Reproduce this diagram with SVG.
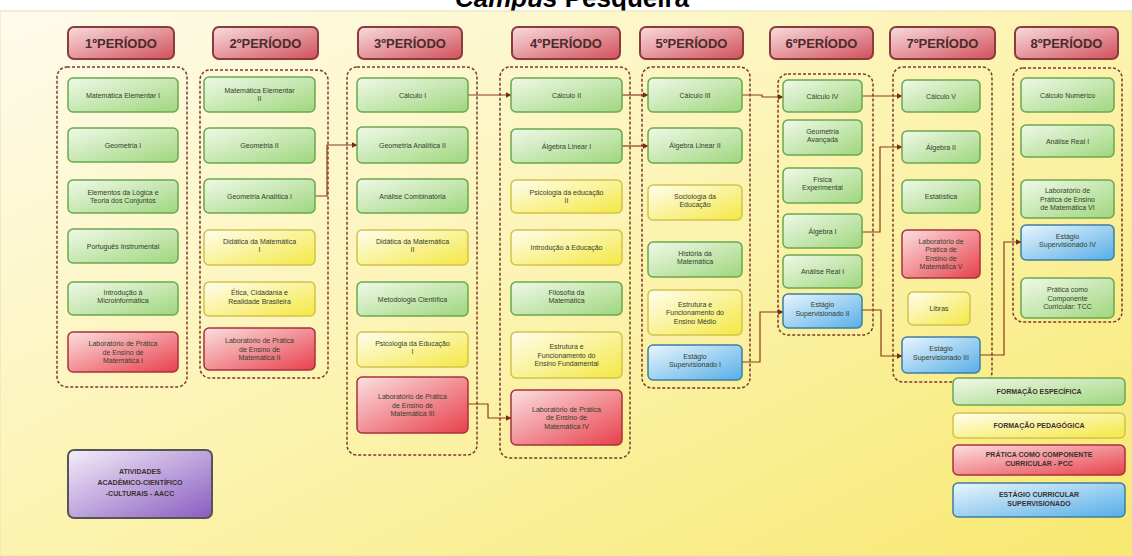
<svg xmlns="http://www.w3.org/2000/svg" width="1132" height="556" viewBox="0 0 1132 556">
<defs>
<linearGradient id="bg" x1="0" y1="0" x2="1" y2="1"><stop offset="0" stop-color="#fefbec"/><stop offset="0.5" stop-color="#fcf3b0"/><stop offset="1" stop-color="#f8e870"/></linearGradient>
<linearGradient id="gG" x1="0" y1="0" x2="1" y2="1"><stop offset="0" stop-color="#f0f9e8"/><stop offset="1" stop-color="#9fd67e"/></linearGradient>
<linearGradient id="gY" x1="0" y1="0" x2="1" y2="1"><stop offset="0" stop-color="#fffdf0"/><stop offset="1" stop-color="#f4e843"/></linearGradient>
<linearGradient id="gR" x1="0" y1="0" x2="1" y2="1"><stop offset="0" stop-color="#fbe0e0"/><stop offset="1" stop-color="#e8404c"/></linearGradient>
<linearGradient id="gB" x1="0" y1="0" x2="1" y2="1"><stop offset="0" stop-color="#eaf6fc"/><stop offset="1" stop-color="#56aee8"/></linearGradient>
<linearGradient id="gH" x1="0" y1="0" x2="1" y2="1"><stop offset="0" stop-color="#f8dcdc"/><stop offset="1" stop-color="#d2505c"/></linearGradient>
<linearGradient id="gP" x1="0" y1="0" x2="1" y2="1"><stop offset="0" stop-color="#f4eefa"/><stop offset="1" stop-color="#8a5cc0"/></linearGradient>
<marker id="arr" viewBox="0 0 10 10" refX="9" refY="5" markerWidth="5" markerHeight="5" orient="auto"><path d="M0,0 L10,5 L0,10 z" fill="#7a2a14"/></marker>
</defs>
<style>
.g{fill:url(#gG);stroke:#6aa84f;stroke-width:1.5}
.y{fill:url(#gY);stroke:#d2c24a;stroke-width:1.5}
.r{fill:url(#gR);stroke:#a8323a;stroke-width:1.5}
.b{fill:url(#gB);stroke:#3d7fa0;stroke-width:1.5}
.h{fill:url(#gH);stroke:#8c3a3a;stroke-width:2}
.p{fill:url(#gP);stroke:#555;stroke-width:2}
.c{fill:none;stroke:#7a3b2e;stroke-width:1.5;stroke-dasharray:3 2}
.t{font-family:"Liberation Sans",Arial,sans-serif;font-size:7px;fill:#33402c;text-anchor:middle}
.ht{font-family:"Liberation Sans",Arial,sans-serif;font-weight:bold;font-size:13px;fill:#4a2c2c;text-anchor:middle}
.lt{font-family:"Liberation Sans",Arial,sans-serif;font-weight:bold;font-size:7px;fill:#3a3030;text-anchor:middle}
.conn{fill:none;stroke:#8b3a1a;stroke-width:1.2;marker-end:url(#arr)}
</style>
<rect x="0" y="0" width="1132" height="556" fill="#ffffff"/>
<text x="572" y="7" font-family="Liberation Sans, Arial, sans-serif" font-weight="bold" font-size="26" text-anchor="middle" fill="#000"><tspan font-style="italic">Campus</tspan> Pesqueira</text>
<rect x="0" y="11" width="1132" height="545" fill="url(#bg)" stroke="#e8e0b0" stroke-width="1"/>

<g id="containers">
<rect class="c" x="57" y="67" width="130" height="320" rx="10"/>
<rect class="c" x="200" y="70" width="128" height="308" rx="10"/>
<rect class="c" x="347" y="67" width="130" height="388" rx="10"/>
<rect class="c" x="500" y="67" width="130" height="391" rx="10"/>
<rect class="c" x="642" y="67" width="108" height="321" rx="10"/>
<rect class="c" x="778" y="74" width="95" height="261" rx="10"/>
<rect class="c" x="893" y="67" width="99" height="315" rx="10"/>
<rect class="c" x="1013" y="68" width="109" height="254" rx="10"/>
</g>

<g id="headers">
<g id="h1"><rect class="h" x="68" y="27" width="106" height="32" rx="6"/><text class="ht" x="121" y="47.5">1ºPERÍODO</text></g>
<g id="h2"><rect class="h" x="213" y="27" width="105" height="32" rx="6"/><text class="ht" x="265.5" y="47.5">2ºPERÍODO</text></g>
<g id="h3"><rect class="h" x="358" y="27" width="104" height="32" rx="6"/><text class="ht" x="410" y="47.5">3ºPERÍODO</text></g>
<g id="h4"><rect class="h" x="512" y="27" width="108" height="32" rx="6"/><text class="ht" x="566" y="47.5">4ºPERÍODO</text></g>
<g id="h5"><rect class="h" x="640" y="27" width="103" height="32" rx="6"/><text class="ht" x="691.5" y="47.5">5ºPERÍODO</text></g>
<g id="h6"><rect class="h" x="770" y="27" width="103" height="32" rx="6"/><text class="ht" x="821.5" y="47.5">6ºPERÍODO</text></g>
<g id="h7"><rect class="h" x="890" y="27" width="105" height="32" rx="6"/><text class="ht" x="942.5" y="47.5">7ºPERÍODO</text></g>
<g id="h8"><rect class="h" x="1015" y="27" width="103" height="32" rx="6"/><text class="ht" x="1066.5" y="47.5">8ºPERÍODO</text></g>
</g>

<g id="connectors">
<path class="conn" d="M315,196 H327 V145 H357"/>
<path class="conn" d="M468,95 H511"/>
<path class="conn" d="M468,404 H488 V418 H511"/>
<path class="conn" d="M622,95 H648"/>
<path class="conn" d="M622,146 H648"/>
<path class="conn" d="M742,95 H762 V97 H783"/>
<path class="conn" d="M742,362 H760 V312 H783"/>
<path class="conn" d="M862,96 H902"/>
<path class="conn" d="M862,232 H880 V147 H902"/>
<path class="conn" d="M862,310 H881 V356 H902"/>
<path class="conn" d="M980,355 H1004 V242 H1021"/>
</g>

<g id="n1a"><rect class="g" x="68" y="78" width="110" height="34" rx="5"/><text class="t" x="123" y="97.5">Matemática Elementar I</text></g>
<g id="n1b"><rect class="g" x="68" y="128" width="110" height="34" rx="5"/><text class="t" x="123" y="147.5">Geometria I</text></g>
<g id="n1c"><rect class="g" x="68" y="180" width="110" height="33" rx="5"/><text class="t" x="123" y="194.5">Elementos da Lógica e<tspan x="123" dy="8.5">Teoria dos Conjuntos</tspan></text></g>
<g id="n1d"><rect class="g" x="68" y="229" width="110" height="34" rx="5"/><text class="t" x="123" y="248.5">Português Instrumental</text></g>
<g id="n1e"><rect class="g" x="68" y="282" width="110" height="33" rx="5"/><text class="t" x="123" y="294.5">Introdução à<tspan x="123" dy="8.5">Microinformática</tspan></text></g>
<g id="n1f"><rect class="r" x="68" y="332" width="110" height="40" rx="5"/><text class="t" x="123" y="346">Laboratório de Prática<tspan x="123" dy="8.5">de Ensino de</tspan><tspan x="123" dy="8.5">Matemática I</tspan></text></g>

<g id="n2a"><rect class="g" x="204" y="77" width="111" height="35" rx="5"/><text class="t" x="259.5" y="92.5">Matemática Elementar<tspan x="259.5" dy="8.5">II</tspan></text></g>
<g id="n2b"><rect class="g" x="204" y="128" width="111" height="35" rx="5"/><text class="t" x="259.5" y="148">Geometria II</text></g>
<g id="n2c"><rect class="g" x="204" y="179" width="111" height="34" rx="5"/><text class="t" x="259.5" y="198.5">Geometria Analítica I</text></g>
<g id="n2d"><rect class="y" x="204" y="230" width="111" height="35" rx="5"/><text class="t" x="259.5" y="243.5">Didática da Matemática<tspan x="259.5" dy="8.5">I</tspan></text></g>
<g id="n2e"><rect class="y" x="204" y="282" width="111" height="34" rx="5"/><text class="t" x="259.5" y="295">Ética, Cidadania e<tspan x="259.5" dy="8.5">Realidade Brasileira</tspan></text></g>
<g id="n2f"><rect class="r" x="204" y="328" width="111" height="42" rx="5"/><text class="t" x="259.5" y="343">Laboratório de Prática<tspan x="259.5" dy="8.5">de Ensino de</tspan><tspan x="259.5" dy="8.5">Matemática II</tspan></text></g>

<g id="n3a"><rect class="g" x="357" y="78" width="111" height="34" rx="5"/><text class="t" x="412.5" y="97.5">Cálculo I</text></g>
<g id="n3b"><rect class="g" x="357" y="127" width="111" height="36" rx="5"/><text class="t" x="412.5" y="147.5">Geometria Analítica II</text></g>
<g id="n3c"><rect class="g" x="357" y="179" width="111" height="34" rx="5"/><text class="t" x="412.5" y="198.5">Análise Combinatória</text></g>
<g id="n3d"><rect class="y" x="357" y="230" width="111" height="35" rx="5"/><text class="t" x="412.5" y="243.5">Didática da Matemática<tspan x="412.5" dy="8.5">II</tspan></text></g>
<g id="n3e"><rect class="g" x="357" y="282" width="111" height="34" rx="5"/><text class="t" x="412.5" y="301.5">Metodologia Científica</text></g>
<g id="n3f"><rect class="y" x="357" y="332" width="111" height="35" rx="5"/><text class="t" x="412.5" y="345.5">Psicologia da Educação<tspan x="412.5" dy="8.5">I</tspan></text></g>
<g id="n3g"><rect class="r" x="357" y="377" width="111" height="56" rx="5"/><text class="t" x="412.5" y="399">Laboratório de Prática<tspan x="412.5" dy="8.5">de Ensino de</tspan><tspan x="412.5" dy="8.5">Matemática III</tspan></text></g>

<g id="n4a"><rect class="g" x="511" y="78" width="111" height="34" rx="5"/><text class="t" x="566.5" y="97.5">Cálculo II</text></g>
<g id="n4b"><rect class="g" x="511" y="129" width="111" height="34" rx="5"/><text class="t" x="566.5" y="148.5">Álgebra Linear I</text></g>
<g id="n4c"><rect class="y" x="511" y="180" width="111" height="33" rx="5"/><text class="t" x="566.5" y="194.5">Psicologia da educação<tspan x="566.5" dy="8.5">II</tspan></text></g>
<g id="n4d"><rect class="y" x="511" y="230" width="111" height="35" rx="5"/><text class="t" x="566.5" y="250">Introdução à Educação</text></g>
<g id="n4e"><rect class="g" x="511" y="282" width="111" height="33" rx="5"/><text class="t" x="566.5" y="294.5">Filosofia da<tspan x="566.5" dy="8.5">Matemática</tspan></text></g>
<g id="n4f"><rect class="y" x="511" y="332" width="111" height="46" rx="5"/><text class="t" x="566.5" y="349">Estrutura e<tspan x="566.5" dy="8.5">Funcionamento do</tspan><tspan x="566.5" dy="8.5">Ensino Fundamental</tspan></text></g>
<g id="n4g"><rect class="r" x="511" y="390" width="111" height="55" rx="5"/><text class="t" x="566.5" y="411.5">Laboratório de Prática<tspan x="566.5" dy="8.5">de Ensino de</tspan><tspan x="566.5" dy="8.5">Matemática IV</tspan></text></g>

<g id="n5a"><rect class="g" x="648" y="78" width="94" height="34" rx="5"/><text class="t" x="695" y="97.5">Cálculo III</text></g>
<g id="n5b"><rect class="g" x="648" y="128" width="94" height="35" rx="5"/><text class="t" x="695" y="148">Álgebra Linear II</text></g>
<g id="n5c"><rect class="y" x="648" y="185" width="94" height="35" rx="5"/><text class="t" x="695" y="198.5">Sociologia da<tspan x="695" dy="8.5">Educação</tspan></text></g>
<g id="n5d"><rect class="g" x="648" y="242" width="94" height="35" rx="5"/><text class="t" x="695" y="255.5">História da<tspan x="695" dy="8.5">Matemática</tspan></text></g>
<g id="n5e"><rect class="y" x="648" y="290" width="94" height="45" rx="5"/><text class="t" x="695" y="306.5">Estrutura e<tspan x="695" dy="8.5">Funcionamento do</tspan><tspan x="695" dy="8.5">Ensino Médio</tspan></text></g>
<g id="n5f"><rect class="b" x="648" y="345" width="94" height="35" rx="5"/><text class="t" x="695" y="358.5">Estágio<tspan x="695" dy="8.5">Supervisionado I</tspan></text></g>

<g id="n6a"><rect class="g" x="783" y="80" width="79" height="32" rx="5"/><text class="t" x="822.5" y="98.5">Cálculo IV</text></g>
<g id="n6b"><rect class="g" x="783" y="120" width="79" height="35" rx="5"/><text class="t" x="822.5" y="133.5">Geometria<tspan x="822.5" dy="8.5">Avançada</tspan></text></g>
<g id="n6c"><rect class="g" x="783" y="168" width="79" height="35" rx="5"/><text class="t" x="822.5" y="181.5">Física<tspan x="822.5" dy="8.5">Experimental</tspan></text></g>
<g id="n6d"><rect class="g" x="783" y="214" width="79" height="34" rx="5"/><text class="t" x="822.5" y="233.5">Álgebra I</text></g>
<g id="n6e"><rect class="g" x="783" y="255" width="79" height="33" rx="5"/><text class="t" x="822.5" y="274">Análise Real I</text></g>
<g id="n6f"><rect class="b" x="783" y="294" width="79" height="34" rx="5"/><text class="t" x="822.5" y="307">Estágio<tspan x="822.5" dy="8.5">Supervisionado II</tspan></text></g>

<g id="n7a"><rect class="g" x="902" y="80" width="78" height="32" rx="5"/><text class="t" x="941" y="98.5">Cálculo V</text></g>
<g id="n7b"><rect class="g" x="902" y="131" width="78" height="32" rx="5"/><text class="t" x="941" y="149.5">Álgebra II</text></g>
<g id="n7c"><rect class="g" x="902" y="180" width="78" height="33" rx="5"/><text class="t" x="941" y="199">Estatística</text></g>
<g id="n7d"><rect class="r" x="902" y="230" width="78" height="48" rx="5"/><text class="t" x="941" y="243.5">Laboratório de<tspan x="941" dy="8.5">Prática de</tspan><tspan x="941" dy="8.5">Ensino de</tspan><tspan x="941" dy="8.5">Matemática V</tspan></text></g>
<g id="n7e"><rect class="y" x="908" y="292" width="62" height="33" rx="5"/><text class="t" x="939" y="311">Libras</text></g>
<g id="n7f"><rect class="b" x="902" y="337" width="78" height="36" rx="5"/><text class="t" x="941" y="351">Estágio<tspan x="941" dy="8.5">Supervisionado III</tspan></text></g>

<g id="n8a"><rect class="g" x="1021" y="78" width="93" height="34" rx="5"/><text class="t" x="1067.5" y="97.5">Cálculo Numérico</text></g>
<g id="n8b"><rect class="g" x="1021" y="125" width="93" height="32" rx="5"/><text class="t" x="1067.5" y="143.5">Análise Real I</text></g>
<g id="n8c"><rect class="g" x="1021" y="180" width="93" height="38" rx="5"/><text class="t" x="1067.5" y="193">Laboratório de<tspan x="1067.5" dy="8.5">Prática de Ensino</tspan><tspan x="1067.5" dy="8.5">de Matemática VI</tspan></text></g>
<g id="n8d"><rect class="b" x="1021" y="225" width="93" height="35" rx="5"/><text class="t" x="1067.5" y="238.5">Estágio<tspan x="1067.5" dy="8.5">Supervisionado IV</tspan></text></g>
<g id="n8e"><rect class="g" x="1021" y="278" width="93" height="40" rx="5"/><text class="t" x="1067.5" y="292">Prática como<tspan x="1067.5" dy="8.5">Componente</tspan><tspan x="1067.5" dy="8.5">Curricular: TCC</tspan></text></g>

<g id="legend">
<g id="lg1"><rect class="g" x="953" y="378" width="172" height="27" rx="5"/><text class="lt" x="1039" y="394">FORMAÇÃO ESPECÍFICA</text></g>
<g id="lg2"><rect class="y" x="953" y="413" width="172" height="25" rx="5"/><text class="lt" x="1039" y="428">FORMAÇÃO PEDAGÓGICA</text></g>
<g id="lg3"><rect class="r" x="953" y="445" width="172" height="30" rx="5"/><text class="lt" x="1039" y="456.5">PRÁTICA COMO COMPONENTE<tspan x="1039" dy="9">CURRICULAR - PCC</tspan></text></g>
<g id="lg4"><rect class="b" x="953" y="483" width="172" height="34" rx="5"/><text class="lt" x="1039" y="497">ESTÁGIO CURRICULAR<tspan x="1039" dy="9">SUPERVISIONADO</tspan></text></g>
</g>

<g id="aacc"><rect class="p" x="68" y="450" width="144" height="68" rx="6"/><text class="lt" x="140" y="474" font-size="8">ATIVIDADES<tspan x="140" dy="11">ACADÊMICO-CIENTÍFICO</tspan><tspan x="140" dy="11">-CULTURAIS - AACC</tspan></text></g>
</svg>
